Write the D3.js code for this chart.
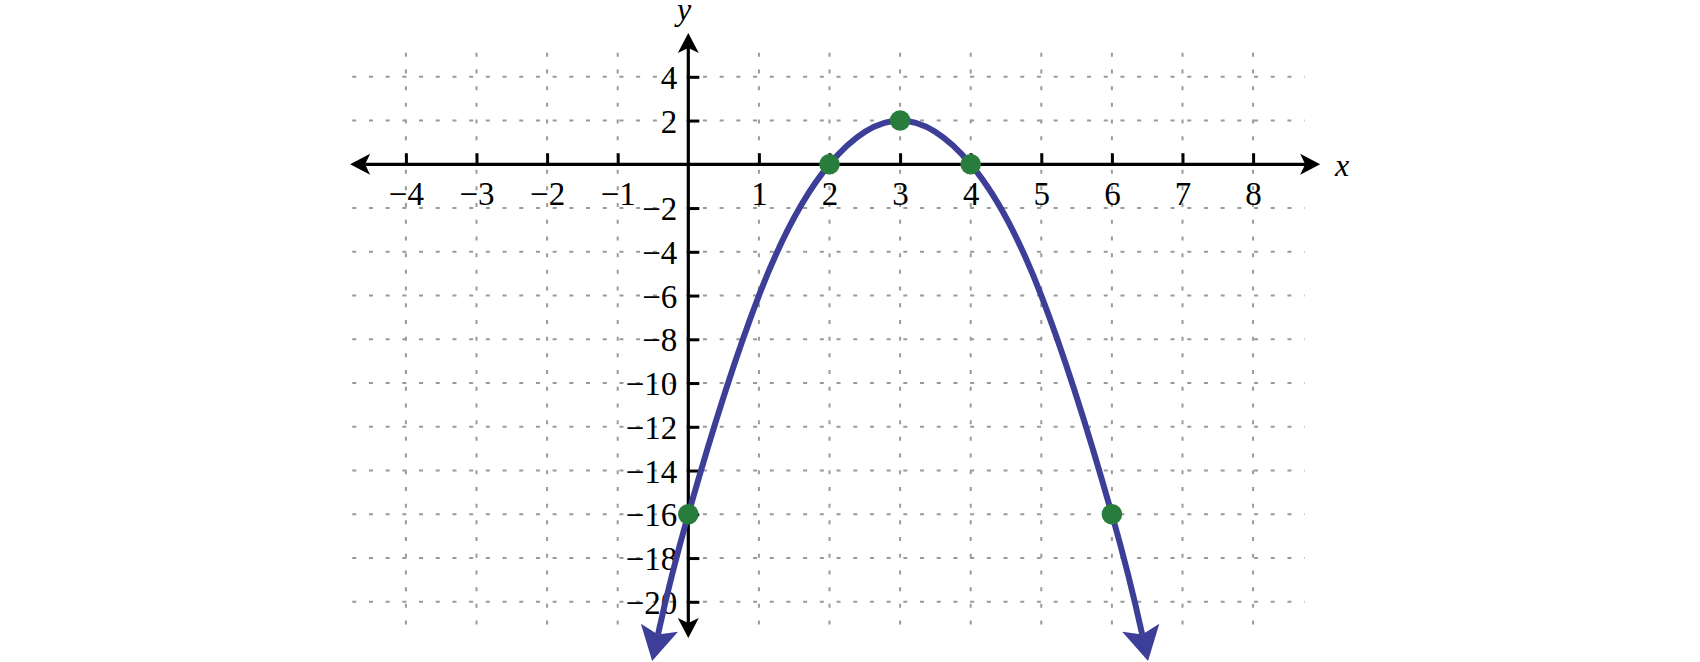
<!DOCTYPE html>
<html>
<head>
<meta charset="utf-8">
<script src="https://cdn.jsdelivr.net/npm/d3@7"></script>
<style>
  body { margin: 0; background: #fff; }
  svg { display: block; }
  .tick text { font-family: "Liberation Serif", "Times New Roman", serif; font-size: 33px; fill: #000; }
</style>
</head>
<body>
<svg id="chart"></svg>
<script>
// tick values on both axes
let xTicks = [-4, -3, -2, -1, 1, 2, 3, 4, 5, 6, 7, 8];
let yTicks = [4, 2, -2, -4, -6, -8, -10, -12, -14, -16, -18, -20];

// points of the parabola
let curveX = [-0.43, 0, 1, 2, 3, 4, 5, 6, 6.43];
let curveY = [-21.5, -16, -6, 0, 2, 0, -6, -16, -21.5];

// the marked points
let pointX = [0, 2, 3, 4, 6];
let pointY = [-16, 0, 2, 0, -16];

let width = 1700, height = 662;

let svg = d3.select('#chart')
    .attr('width', width)
    .attr('height', height);

let x = d3.scaleLinear()
    .domain([-4, 8])
    .range([405.9, 1253.1]);
let y = d3.scaleLinear()
    .domain([4, -20])
    .range([76.8, 601.8]);

let defs = svg.append('defs');

// small arrow for the axes, origin at the notch
defs.append('marker')
    .attr('id', 'axisArrow')
    .attr('markerUnits', 'userSpaceOnUse')
    .attr('markerWidth', 40).attr('markerHeight', 40)
    .attr('refX', 0).attr('refY', 0)
    .attr('viewBox', '-20 -20 40 40')
    .attr('orient', 'auto-start-reverse')
    .append('path')
    .attr('d', 'M15,0 L-5,-10.5 L0,0 L-5,10.5 Z')
    .attr('fill', '#000');

// big stealth arrow for the curve
defs.append('marker')
    .attr('id', 'curveArrow')
    .attr('markerUnits', 'userSpaceOnUse')
    .attr('markerWidth', 80).attr('markerHeight', 80)
    .attr('refX', 0).attr('refY', 0)
    .attr('viewBox', '-40 -40 80 80')
    .attr('orient', 'auto-start-reverse')
    .append('path')
    .attr('d', 'M27,0 L-7,-19 L0,0 L-7,19 Z')
    .attr('fill', '#3d3e98');

// dotted grid
let grid = svg.append('g')
    .attr('stroke', '#9a9a9a')
    .attr('stroke-width', 2)
    .attr('stroke-dasharray', '4 12.7');

grid.selectAll('line.v')
    .data(xTicks)
    .enter()
    .append('line')
    .attr('class', 'v')
    .attr('x1', d => x(d)).attr('x2', d => x(d))
    .attr('y1', y(5.1)).attr('y2', y(-21.6));

grid.selectAll('line.h')
    .data(yTicks)
    .enter()
    .append('line')
    .attr('class', 'h')
    .attr('y1', d => y(d)).attr('y2', d => y(d))
    .attr('x1', x(-4.76)).attr('x2', x(8.73));

// axes
let xAxis = d3.axisBottom(x)
    .tickValues(xTicks)
    .tickSizeInner(-11)
    .tickSizeOuter(0)
    .tickPadding(17)
    .tickFormat(d3.format('d'));
let yAxis = d3.axisLeft(y)
    .tickValues(yTicks)
    .tickSizeInner(-11)
    .tickSizeOuter(0)
    .tickPadding(11)
    .tickFormat(d3.format('d'));

let gX = svg.append('g')
    .attr('transform', `translate(0,${y(0)})`)
    .call(xAxis);
let gY = svg.append('g')
    .attr('transform', `translate(${x(0)},0)`)
    .call(yAxis);

[gX, gY].forEach(g => {
    g.select('.domain').remove();
    g.selectAll('.tick line').attr('stroke', '#000').attr('stroke-width', 3);
});
gY.selectAll('.tick text').attr('dy', '0.35em');

// axis lines with arrows at both ends
svg.append('line')
    .attr('x1', x(-4.79) + 15).attr('x2', x(8.95) - 15)
    .attr('y1', y(0)).attr('y2', y(0))
    .attr('stroke', '#000').attr('stroke-width', 3.2)
    .attr('marker-start', 'url(#axisArrow)')
    .attr('marker-end', 'url(#axisArrow)');
svg.append('line')
    .attr('x1', x(0)).attr('x2', x(0))
    .attr('y1', y(6) + 15).attr('y2', y(-21.65) - 15)
    .attr('stroke', '#000').attr('stroke-width', 3.2)
    .attr('marker-start', 'url(#axisArrow)')
    .attr('marker-end', 'url(#axisArrow)');

// axis names
svg.append('text')
    .attr('x', 1335).attr('y', 176)
    .attr('font-family', '"Liberation Serif", serif')
    .attr('font-style', 'italic')
    .attr('font-size', 32)
    .text('x');
svg.append('text')
    .attr('x', 677).attr('y', 20)
    .attr('font-family', '"Liberation Serif", serif')
    .attr('font-style', 'italic')
    .attr('font-size', 32)
    .text('y');

// the parabola
let line = d3.line()
    .x(d => x(d[0]))
    .y(d => y(d[1]))
    .curve(d3.curveNatural);

svg.append('path')
    .datum(d3.zip(curveX, curveY))
    .attr('d', line)
    .attr('fill', 'none')
    .attr('stroke', '#3d3e98')
    .attr('stroke-width', 6)
    .attr('marker-start', 'url(#curveArrow)')
    .attr('marker-end', 'url(#curveArrow)');

// points
svg.selectAll('circle.pt')
    .data(d3.zip(pointX, pointY))
    .enter()
    .append('circle')
    .attr('class', 'pt')
    .attr('cx', d => x(d[0]))
    .attr('cy', d => y(d[1]))
    .attr('r', 10.3)
    .attr('fill', '#287d3c');
</script>
</body>
</html>
